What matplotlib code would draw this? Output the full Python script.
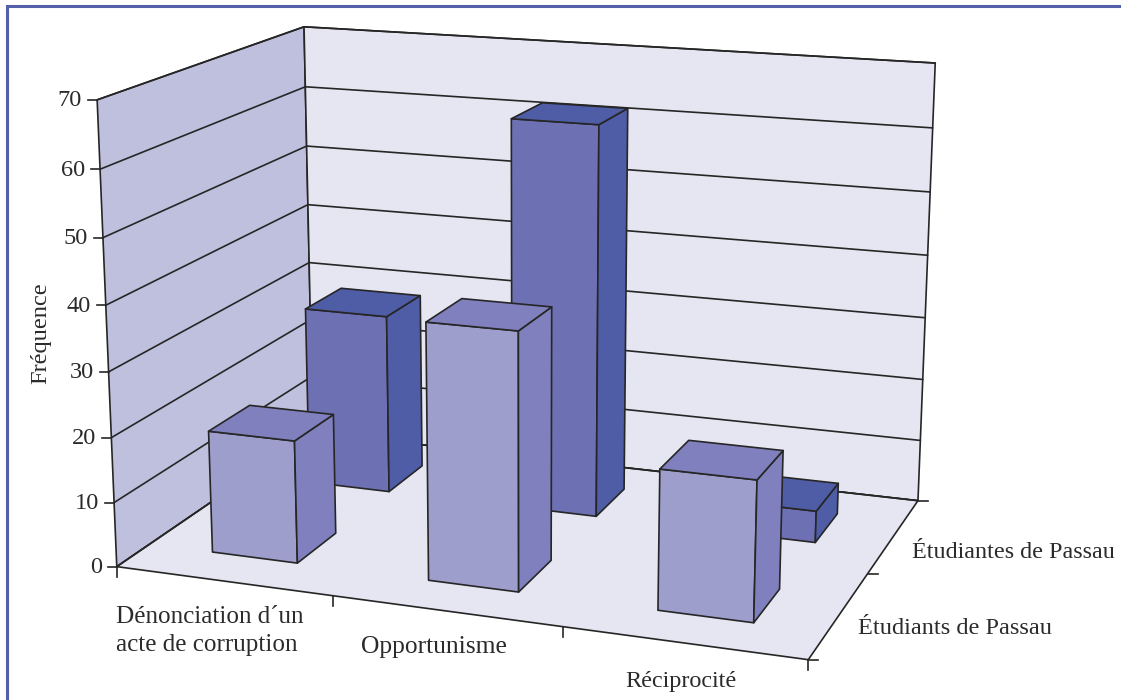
import numpy as np
import matplotlib
matplotlib.use('Agg')
import matplotlib.pyplot as plt
from matplotlib.patches import Polygon

# Data
categories = ['Dénonciation d´un\nacte de corruption', 'Opportunisme', 'Réciprocité']
series_names = ['Étudiants de Passau', 'Étudiantes de Passau']
etudiants = [19, 39, 21]
etudiantes = [29, 62, 5]
y_ticks = [0, 10, 20, 30, 40, 50, 60, 70]

W, H = 1121, 700
BAR_W = 0.4
BAR_D = 0.4
LINE = '#262626'
INK = '#2b2b2b'
LW = 1.2

# Camera: box corners (category, series, value) and where they land on the page
box_pts = [(0, 0, 0), (0, 0, 70), (0, 2, 70), (3, 2, 70), (3, 2, 0), (3, 0, 0),
           (0, 2, 60), (0, 2, 40), (3, 2, 60), (3, 2, 30), (3, 2, 10), (0, 0, 20), (0, 0, 50)]
page_pts = [(117, 566.5), (97.5, 99.5), (303.5, 27), (935, 63.5), (917, 501), (808, 660),
            (305, 86.5), (308.5, 205), (932.7, 128), (926, 317), (921, 440), (111, 438), (103, 237.5)]


def fit_camera(world, page):
    rows = []
    for (x, y, z), (u, v) in zip(world, page):
        rows.append([x, y, z, 1, 0, 0, 0, 0, -u*x, -u*y, -u*z, -u])
        rows.append([0, 0, 0, 0, x, y, z, 1, -v*x, -v*y, -v*z, -v])
    return np.linalg.svd(np.array(rows, dtype=float))[2][-1].reshape(3, 4)


cam = fit_camera(box_pts, page_pts)


def proj(x, y, z):
    p = cam @ np.array([x, y, z, 1.0])
    return p[0]/p[2], p[1]/p[2]


def face(ax, corners, color, z):
    ax.add_patch(Polygon([proj(*c) for c in corners], closed=True, facecolor=color,
                         edgecolor=LINE, linewidth=LW, joinstyle='round', zorder=z))


def bar(ax, cat, ser, val, front, side, top, z):
    x0 = cat + 0.5 - BAR_W/2
    x1 = x0 + BAR_W
    y0 = ser + 0.5 - BAR_D/2
    y1 = y0 + BAR_D
    face(ax, [(x0, y0, 0), (x1, y0, 0), (x1, y0, val), (x0, y0, val)], front, z)
    face(ax, [(x1, y0, 0), (x1, y1, 0), (x1, y1, val), (x1, y0, val)], side, z)
    face(ax, [(x0, y0, val), (x1, y0, val), (x1, y1, val), (x0, y1, val)], top, z)


def seg(ax, a, b):
    (u0, v0), (u1, v1) = proj(*a), proj(*b)
    ax.plot([u0, u1], [v0, v1], color=LINE, lw=LW, solid_capstyle='round', zorder=2)


plt.rcParams['font.family'] = ['Liberation Serif', 'DejaVu Serif']
fig = plt.figure(figsize=(W/100, H/100), dpi=100)
ax = fig.add_axes([0, 0, 1, 1])
ax.set_xlim(0, W)
ax.set_ylim(H, 0)
ax.axis('off')

# Page frame, open at the right and bottom
ax.plot([7, 7, W], [H, 6, 6], color='#5560ab', lw=2.2, solid_joinstyle='miter')

# Walls and floor
face(ax, [(0, 0, 0), (0, 2, 0), (0, 2, 70), (0, 0, 70)], '#bfc0de', 1)
face(ax, [(0, 2, 0), (3, 2, 0), (3, 2, 70), (0, 2, 70)], '#e6e6f2', 1)
face(ax, [(0, 0, 0), (3, 0, 0), (3, 2, 0), (0, 2, 0)], '#e6e6f2', 1)

# Gridlines along both walls and value ticks
for t in y_ticks:
    seg(ax, (0, 0, t), (0, 2, t))
    seg(ax, (0, 2, t), (3, 2, t))
    u, v = proj(0, 0, t)
    ax.plot([u-9, u], [v, v], color=LINE, lw=LW, zorder=2)
    ax.text(u-15, v+1, str(t), ha='right', va='center', fontsize=17.6, color=INK)

# Category ticks hang below the front edge, series ticks stick out to the right
for c in range(4):
    u, v = proj(c, 0, 0)
    ax.plot([u, u], [v, v+10], color=LINE, lw=LW, zorder=2)
for s in range(3):
    u, v = proj(3, s, 0)
    ax.plot([u, u+10], [v, v], color=LINE, lw=LW, zorder=2)

# Back row first so the front row covers it
for i, val in enumerate(etudiantes):
    bar(ax, i, 1, val, '#6d70b3', '#4f5ca6', '#4f5ca6', 3)
for i, val in enumerate(etudiants):
    bar(ax, i, 0, val, '#9d9ecb', '#7f80bd', '#7f80bd', 4)

# Axis labels
txt = dict(color=INK, va='center')
ax.text(116, 631, categories[0], ha='left', linespacing=1.3, fontsize=18.1, **txt)
ax.text(361, 647, categories[1], ha='left', fontsize=18.4, **txt)
ax.text(625, 681, categories[2], ha='left', fontsize=17.4, **txt)
ax.text(858, 629, series_names[0], ha='left', fontsize=17.5, **txt)
ax.text(912, 552, series_names[1], ha='left', fontsize=17.4, **txt)
ax.text(41, 333, 'Fréquence', rotation=90, ha='center', fontsize=17.6, **txt)

fig.savefig('out.png', dpi=100)
